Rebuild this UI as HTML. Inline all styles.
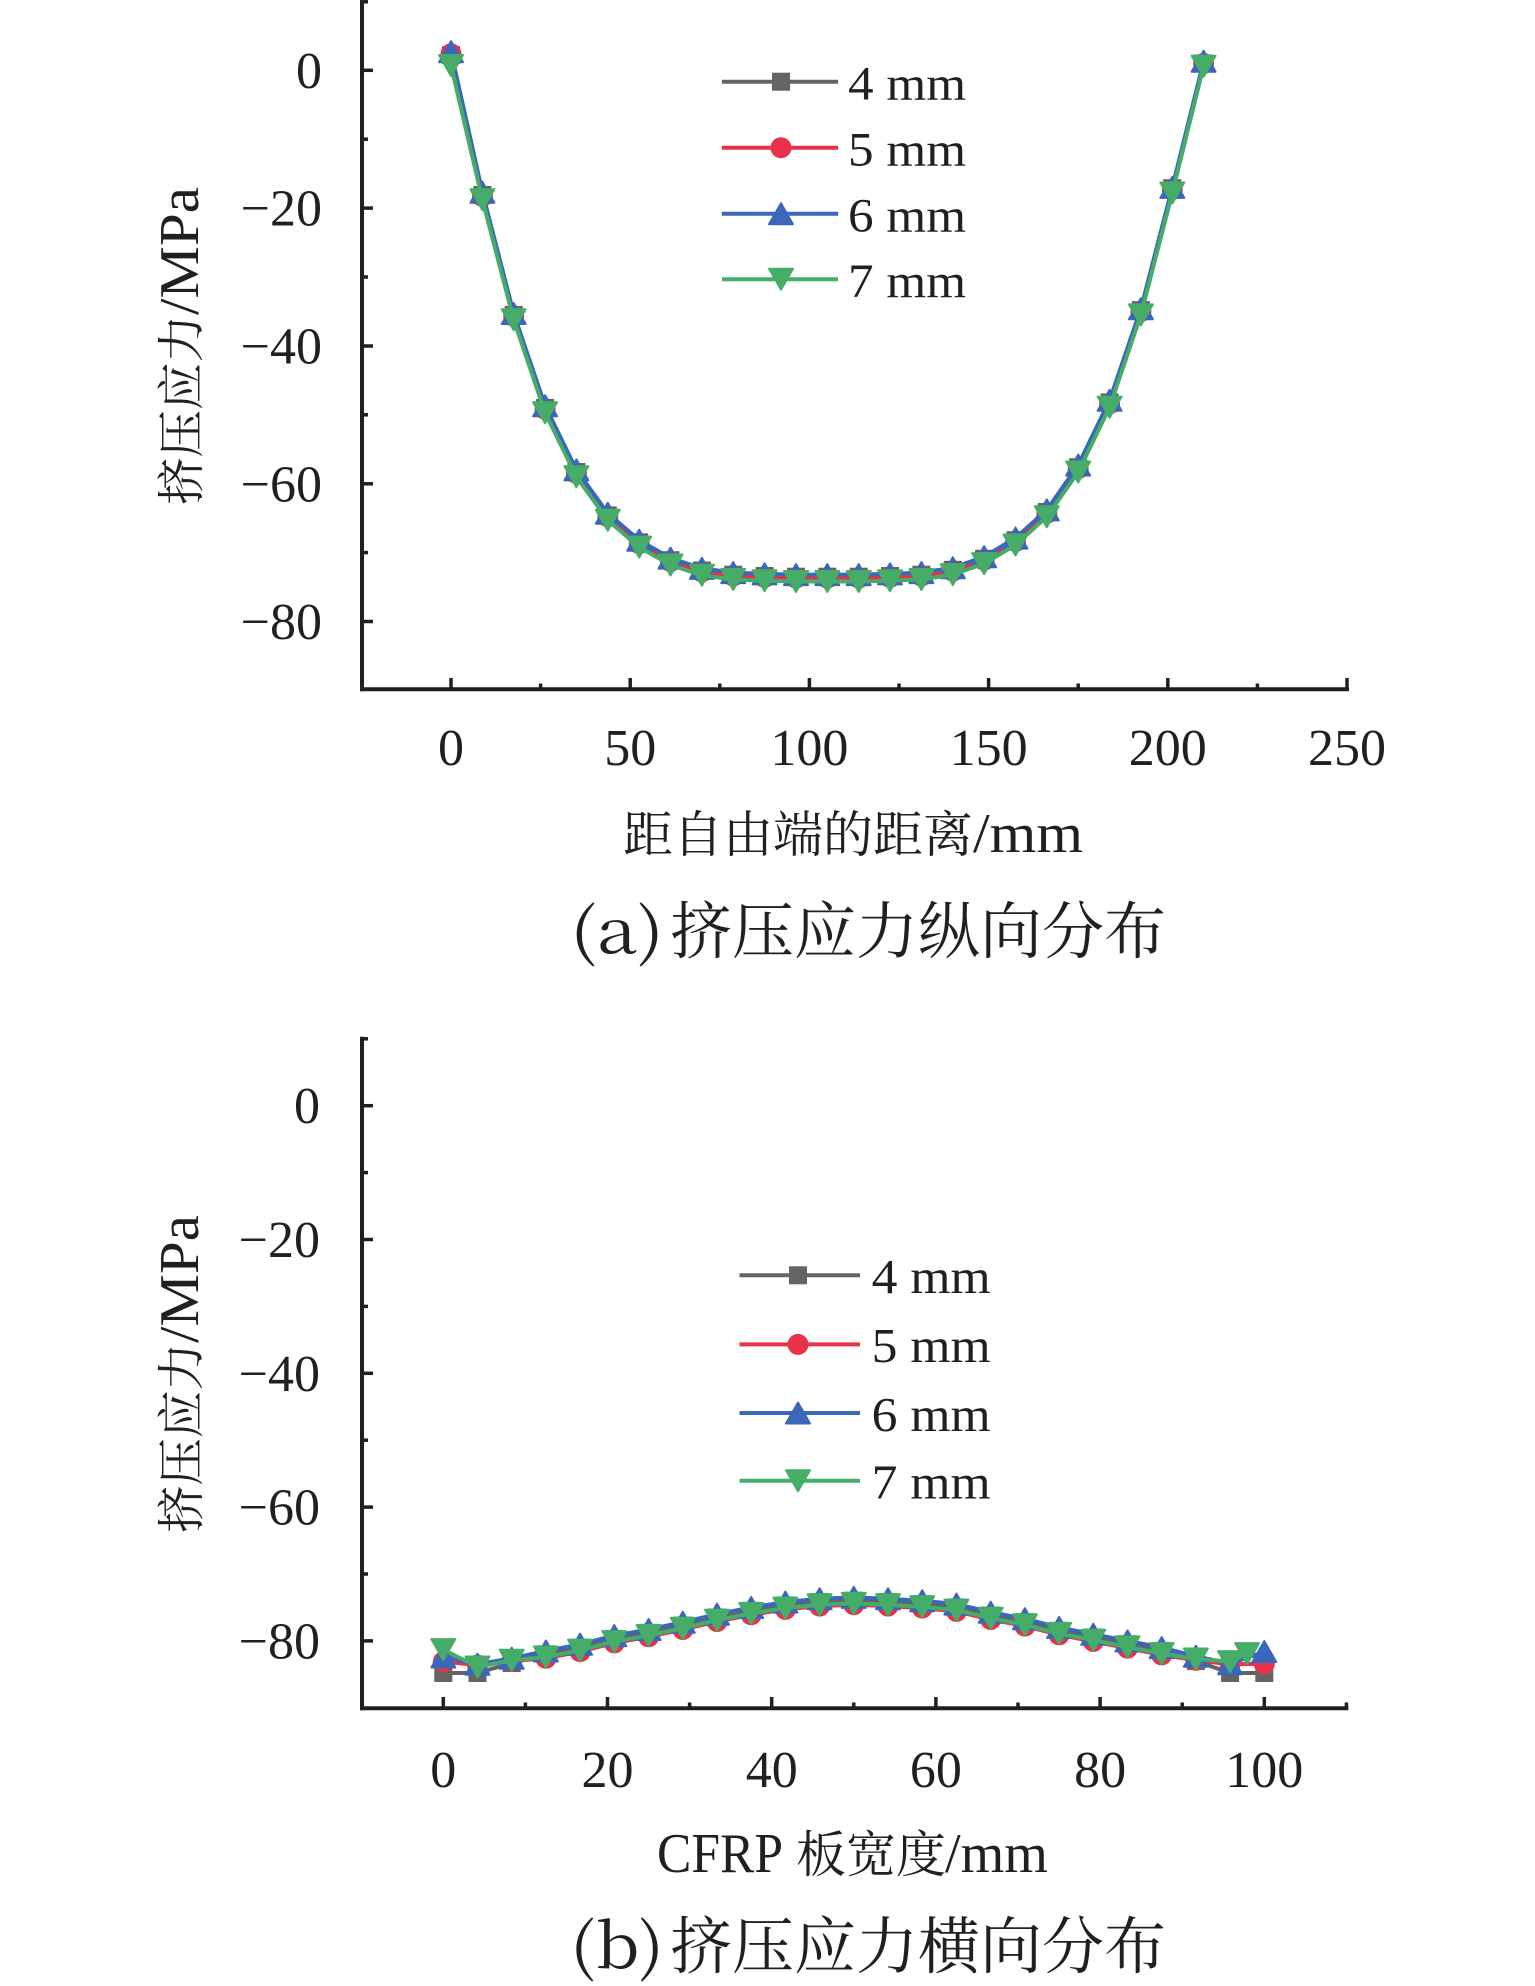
<!DOCTYPE html>
<html><head><meta charset="utf-8"><style>
html,body{margin:0;padding:0;background:#fff;}
svg{display:block;}
text{font-family:"Liberation Serif","Noto Serif CJK SC",serif;fill:#231f20;}
.cjk{font-family:"Noto Serif CJK SC","Liberation Serif",serif;}
</style></head><body>
<svg width="1535" height="1986" viewBox="0 0 1535 1986" xmlns="http://www.w3.org/2000/svg">
<rect width="1535" height="1986" fill="#fff"/>
<defs>
<rect id="sq" x="-9" y="-9" width="18" height="18"/>
<circle id="ci" r="10.5"/>
<path id="tu" d="M-12 10.5 L12 10.5 L0 -10.5 Z" stroke-linejoin="round" stroke-width="2"/>
<path id="td" d="M-12 -10.5 L12 -10.5 L0 10.5 Z" stroke-linejoin="round" stroke-width="2"/>
</defs>

<!-- ===== Chart A axes ===== -->
<g stroke="#231f20" stroke-width="4" fill="none">
<line x1="362" y1="0" x2="362" y2="691.3"/>
<line x1="360" y1="689.3" x2="1349" y2="689.3"/>
</g>
<g stroke="#231f20" stroke-width="3.5">
<line x1="362" y1="70.3" x2="373" y2="70.3"/><line x1="362" y1="208.1" x2="373" y2="208.1"/><line x1="362" y1="346" x2="373" y2="346"/><line x1="362" y1="483.8" x2="373" y2="483.8"/><line x1="362" y1="621.5" x2="373" y2="621.5"/>
<line x1="362" y1="1.8" x2="368" y2="1.8"/><line x1="362" y1="139.2" x2="368" y2="139.2"/><line x1="362" y1="277" x2="368" y2="277"/><line x1="362" y1="414.8" x2="368" y2="414.8"/><line x1="362" y1="552.6" x2="368" y2="552.6"/>
<line x1="451" y1="689" x2="451" y2="678"/><line x1="630.2" y1="689" x2="630.2" y2="678"/><line x1="809.4" y1="689" x2="809.4" y2="678"/><line x1="988.6" y1="689" x2="988.6" y2="678"/><line x1="1167.8" y1="689" x2="1167.8" y2="678"/><line x1="1347" y1="689" x2="1347" y2="678"/>
<line x1="540.6" y1="689" x2="540.6" y2="683.5"/><line x1="719.8" y1="689" x2="719.8" y2="683.5"/><line x1="899" y1="689" x2="899" y2="683.5"/><line x1="1078.2" y1="689" x2="1078.2" y2="683.5"/><line x1="1257.4" y1="689" x2="1257.4" y2="683.5"/>
</g>
<g font-size="52" text-anchor="end">
<text x="322" y="87.8">0</text><text x="322" y="225.6">−20</text><text x="322" y="363.5">−40</text><text x="322" y="501.3">−60</text><text x="322" y="639">−80</text>
</g>
<g font-size="52" text-anchor="middle">
<text x="451" y="765">0</text><text x="630.2" y="765">50</text><text x="809.4" y="765">100</text><text x="988.6" y="765">150</text><text x="1167.8" y="765">200</text><text x="1347" y="765">250</text>
</g>
<text class="cjk" transform="translate(198,505) rotate(-90)" font-size="48" textLength="190" lengthAdjust="spacingAndGlyphs">挤压应力</text>
<text transform="translate(198,315) rotate(-90)" font-size="56" textLength="128" lengthAdjust="spacingAndGlyphs">/MPa</text>
<text class="cjk" x="623" y="852" font-size="50" textLength="350" lengthAdjust="spacingAndGlyphs">距自由端的距离</text>
<text x="973" y="852" font-size="56" textLength="110" lengthAdjust="spacingAndGlyphs">/mm</text>
<text class="cjk" x="570" y="953" font-size="62" textLength="94" lengthAdjust="spacingAndGlyphs">(a)</text>
<text class="cjk" x="670" y="953" font-size="62" textLength="496" lengthAdjust="spacingAndGlyphs">挤压应力纵向分布</text>

<!-- Chart A series -->
<g>
<polyline fill="none" stroke="#646464" stroke-width="4" stroke-linejoin="round" points="451,55.1 482.4,195 513.7,314.9 545.1,407.9 576.4,472 607.8,515.4 639.2,542.3 670.5,560.2 701.9,570.5 733.2,574.7 764.6,576 796,576.7 827.3,576.7 858.7,576.7 890,576 921.4,574.7 952.8,569.8 984.1,558.8 1015.5,540.2 1046.8,512 1078.2,467.2 1109.6,402.4 1140.9,310.1 1172.3,188.2 1203.6,63.4"/>
<g fill="#646464">
<use href="#sq" x="451" y="55.1"/><use href="#sq" x="482.4" y="195"/><use href="#sq" x="513.7" y="314.9"/><use href="#sq" x="545.1" y="407.9"/><use href="#sq" x="576.4" y="472"/><use href="#sq" x="607.8" y="515.4"/><use href="#sq" x="639.2" y="542.3"/><use href="#sq" x="670.5" y="560.2"/><use href="#sq" x="701.9" y="570.5"/><use href="#sq" x="733.2" y="574.7"/><use href="#sq" x="764.6" y="576"/><use href="#sq" x="796" y="576.7"/><use href="#sq" x="827.3" y="576.7"/><use href="#sq" x="858.7" y="576.7"/><use href="#sq" x="890" y="576"/><use href="#sq" x="921.4" y="574.7"/><use href="#sq" x="952.8" y="569.8"/><use href="#sq" x="984.1" y="558.8"/><use href="#sq" x="1015.5" y="540.2"/><use href="#sq" x="1046.8" y="512"/><use href="#sq" x="1078.2" y="467.2"/><use href="#sq" x="1109.6" y="402.4"/><use href="#sq" x="1140.9" y="310.1"/><use href="#sq" x="1172.3" y="188.2"/><use href="#sq" x="1203.6" y="63.4"/>
</g>
<polyline fill="none" stroke="#e8324a" stroke-width="4" stroke-linejoin="round" points="451,53.8 482.4,196.4 513.7,316.3 545.1,409.3 576.4,473.4 607.8,516.8 639.2,543.7 670.5,561.6 701.9,571.9 733.2,576.1 764.6,577.4 796,578.1 827.3,578.1 858.7,578.1 890,577.4 921.4,576.1 952.8,571.2 984.1,560.2 1015.5,541.6 1046.8,513.4 1078.2,468.6 1109.6,403.8 1140.9,311.5 1172.3,189.6 1203.6,63.4"/>
<g fill="#e8324a">
<use href="#ci" x="451" y="53.8"/><use href="#ci" x="482.4" y="196.4"/><use href="#ci" x="513.7" y="316.3"/><use href="#ci" x="545.1" y="409.3"/><use href="#ci" x="576.4" y="473.4"/><use href="#ci" x="607.8" y="516.8"/><use href="#ci" x="639.2" y="543.7"/><use href="#ci" x="670.5" y="561.6"/><use href="#ci" x="701.9" y="571.9"/><use href="#ci" x="733.2" y="576.1"/><use href="#ci" x="764.6" y="577.4"/><use href="#ci" x="796" y="578.1"/><use href="#ci" x="827.3" y="578.1"/><use href="#ci" x="858.7" y="578.1"/><use href="#ci" x="890" y="577.4"/><use href="#ci" x="921.4" y="576.1"/><use href="#ci" x="952.8" y="571.2"/><use href="#ci" x="984.1" y="560.2"/><use href="#ci" x="1015.5" y="541.6"/><use href="#ci" x="1046.8" y="513.4"/><use href="#ci" x="1078.2" y="468.6"/><use href="#ci" x="1109.6" y="403.8"/><use href="#ci" x="1140.9" y="311.5"/><use href="#ci" x="1172.3" y="189.6"/><use href="#ci" x="1203.6" y="63.4"/>
</g>
<polyline fill="none" stroke="#3a67ba" stroke-width="4" stroke-linejoin="round" points="451,51.7 482.4,192.3 513.7,313.5 545.1,405.8 576.4,469.9 607.8,513.3 639.2,540.2 670.5,558.1 701.9,568.4 733.2,572.6 764.6,573.9 796,574.6 827.3,574.6 858.7,574.6 890,573.9 921.4,572.6 952.8,567.7 984.1,556.7 1015.5,538.1 1046.8,509.9 1078.2,465.1 1109.6,400.3 1140.9,308.7 1172.3,187.4 1203.6,61.3"/>
<g fill="#3a67ba" stroke="#3a67ba">
<use href="#tu" x="451" y="51.7"/><use href="#tu" x="482.4" y="192.3"/><use href="#tu" x="513.7" y="313.5"/><use href="#tu" x="545.1" y="405.8"/><use href="#tu" x="576.4" y="469.9"/><use href="#tu" x="607.8" y="513.3"/><use href="#tu" x="639.2" y="540.2"/><use href="#tu" x="670.5" y="558.1"/><use href="#tu" x="701.9" y="568.4"/><use href="#tu" x="733.2" y="572.6"/><use href="#tu" x="764.6" y="573.9"/><use href="#tu" x="796" y="574.6"/><use href="#tu" x="827.3" y="574.6"/><use href="#tu" x="858.7" y="574.6"/><use href="#tu" x="890" y="573.9"/><use href="#tu" x="921.4" y="572.6"/><use href="#tu" x="952.8" y="567.7"/><use href="#tu" x="984.1" y="556.7"/><use href="#tu" x="1015.5" y="538.1"/><use href="#tu" x="1046.8" y="509.9"/><use href="#tu" x="1078.2" y="465.1"/><use href="#tu" x="1109.6" y="400.3"/><use href="#tu" x="1140.9" y="308.7"/><use href="#tu" x="1172.3" y="187.4"/><use href="#tu" x="1203.6" y="61.3"/>
</g>
<polyline fill="none" stroke="#45ad68" stroke-width="4" stroke-linejoin="round" points="451,65.5 482.4,199.8 513.7,319.7 545.1,412.7 576.4,476.8 607.8,520.2 639.2,547.1 670.5,565 701.9,575.3 733.2,579.5 764.6,580.8 796,581.5 827.3,581.5 858.7,581.5 890,580.8 921.4,579.5 952.8,574.6 984.1,563.6 1015.5,545 1046.8,516.8 1078.2,472 1109.6,407.2 1140.9,314.9 1172.3,193 1203.6,66.2"/>
<g fill="#45ad68" stroke="#45ad68">
<use href="#td" x="451" y="65.5"/><use href="#td" x="482.4" y="199.8"/><use href="#td" x="513.7" y="319.7"/><use href="#td" x="545.1" y="412.7"/><use href="#td" x="576.4" y="476.8"/><use href="#td" x="607.8" y="520.2"/><use href="#td" x="639.2" y="547.1"/><use href="#td" x="670.5" y="565"/><use href="#td" x="701.9" y="575.3"/><use href="#td" x="733.2" y="579.5"/><use href="#td" x="764.6" y="580.8"/><use href="#td" x="796" y="581.5"/><use href="#td" x="827.3" y="581.5"/><use href="#td" x="858.7" y="581.5"/><use href="#td" x="890" y="580.8"/><use href="#td" x="921.4" y="579.5"/><use href="#td" x="952.8" y="574.6"/><use href="#td" x="984.1" y="563.6"/><use href="#td" x="1015.5" y="545"/><use href="#td" x="1046.8" y="516.8"/><use href="#td" x="1078.2" y="472"/><use href="#td" x="1109.6" y="407.2"/><use href="#td" x="1140.9" y="314.9"/><use href="#td" x="1172.3" y="193"/><use href="#td" x="1203.6" y="66.2"/>
</g>
</g>

<!-- Legend A -->
<g stroke-width="4">
<line x1="722" y1="81.7" x2="838" y2="81.7" stroke="#646464"/>
<line x1="722" y1="147.7" x2="838" y2="147.7" stroke="#e8324a"/>
<line x1="722" y1="213.7" x2="838" y2="213.7" stroke="#3a67ba"/>
<line x1="722" y1="279.3" x2="838" y2="279.3" stroke="#45ad68"/>
</g>
<use href="#sq" x="781" y="81.7" fill="#646464"/>
<use href="#ci" x="781" y="147.7" fill="#e8324a"/>
<use href="#tu" x="781" y="213.7" fill="#3a67ba" stroke="#3a67ba"/>
<use href="#td" x="781" y="279.3" fill="#45ad68" stroke="#45ad68"/>
<g font-size="48">
<text x="848" y="99.3" textLength="118" lengthAdjust="spacingAndGlyphs">4 mm</text>
<text x="848" y="165.3" textLength="118" lengthAdjust="spacingAndGlyphs">5 mm</text>
<text x="848" y="231.3" textLength="118" lengthAdjust="spacingAndGlyphs">6 mm</text>
<text x="848" y="296.9" textLength="118" lengthAdjust="spacingAndGlyphs">7 mm</text>
</g>

<!-- ===== Chart B axes ===== -->
<g stroke="#231f20" stroke-width="4" fill="none">
<line x1="362" y1="1036.8" x2="362" y2="1710.3"/>
<line x1="360" y1="1708.3" x2="1348.4" y2="1708.3"/>
</g>
<g stroke="#231f20" stroke-width="3.5">
<line x1="362" y1="1105.7" x2="373" y2="1105.7"/><line x1="362" y1="1239.5" x2="373" y2="1239.5"/><line x1="362" y1="1373.3" x2="373" y2="1373.3"/><line x1="362" y1="1507.1" x2="373" y2="1507.1"/><line x1="362" y1="1640.9" x2="373" y2="1640.9"/>
<line x1="362" y1="1038.8" x2="368" y2="1038.8"/><line x1="362" y1="1172.6" x2="368" y2="1172.6"/><line x1="362" y1="1306.4" x2="368" y2="1306.4"/><line x1="362" y1="1440.2" x2="368" y2="1440.2"/><line x1="362" y1="1574" x2="368" y2="1574"/>
<line x1="443.3" y1="1708" x2="443.3" y2="1697"/><line x1="607.5" y1="1708" x2="607.5" y2="1697"/><line x1="771.7" y1="1708" x2="771.7" y2="1697"/><line x1="935.9" y1="1708" x2="935.9" y2="1697"/><line x1="1100.1" y1="1708" x2="1100.1" y2="1697"/><line x1="1264.3" y1="1708" x2="1264.3" y2="1697"/>
<line x1="525.4" y1="1708" x2="525.4" y2="1702.5"/><line x1="689.6" y1="1708" x2="689.6" y2="1702.5"/><line x1="853.8" y1="1708" x2="853.8" y2="1702.5"/><line x1="1018" y1="1708" x2="1018" y2="1702.5"/><line x1="1182.2" y1="1708" x2="1182.2" y2="1702.5"/><line x1="1346.4" y1="1708" x2="1346.4" y2="1702.5"/>
</g>
<g font-size="52" text-anchor="end">
<text x="320" y="1123.2">0</text><text x="320" y="1257">−20</text><text x="320" y="1390.8">−40</text><text x="320" y="1524.6">−60</text><text x="320" y="1658.4">−80</text>
</g>
<g font-size="52" text-anchor="middle">
<text x="443.3" y="1787">0</text><text x="607.5" y="1787">20</text><text x="771.7" y="1787">40</text><text x="935.9" y="1787">60</text><text x="1100.1" y="1787">80</text><text x="1264.3" y="1787">100</text>
</g>
<text class="cjk" transform="translate(198,1533) rotate(-90)" font-size="48" textLength="190" lengthAdjust="spacingAndGlyphs">挤压应力</text>
<text transform="translate(198,1343) rotate(-90)" font-size="56" textLength="128" lengthAdjust="spacingAndGlyphs">/MPa</text>
<text x="657" y="1872" font-size="56" textLength="126" lengthAdjust="spacingAndGlyphs">CFRP</text>
<text class="cjk" x="796" y="1872" font-size="50" textLength="150" lengthAdjust="spacingAndGlyphs">板宽度</text>
<text x="945" y="1872" font-size="56" textLength="103" lengthAdjust="spacingAndGlyphs">/mm</text>
<text class="cjk" x="570" y="1968" font-size="62" textLength="94" lengthAdjust="spacingAndGlyphs">(b)</text>
<text class="cjk" x="670" y="1968" font-size="62" textLength="496" lengthAdjust="spacingAndGlyphs">挤压应力横向分布</text>

<!-- Chart B series -->
<g>
<polyline fill="none" stroke="#646464" stroke-width="4" stroke-linejoin="round" points="443.3,1673 477.5,1673 511.7,1663 545.9,1654.3 580.1,1647.6 614.3,1638.9 648.6,1632.8 682.8,1625.5 717,1617.5 751.2,1610.8 785.4,1605.4 819.6,1602.1 853.8,1600.7 888,1602.1 922.2,1604.1 956.4,1607.4 990.7,1615.5 1024.9,1622.1 1059.1,1630.8 1093.3,1637.5 1127.5,1644.2 1161.7,1650.9 1195.9,1661 1230.1,1673 1264.3,1673"/>
<g fill="#646464">
<use href="#sq" x="443.3" y="1673"/><use href="#sq" x="477.5" y="1673"/><use href="#sq" x="511.7" y="1663"/><use href="#sq" x="545.9" y="1654.3"/><use href="#sq" x="580.1" y="1647.6"/><use href="#sq" x="614.3" y="1638.9"/><use href="#sq" x="648.6" y="1632.8"/><use href="#sq" x="682.8" y="1625.5"/><use href="#sq" x="717" y="1617.5"/><use href="#sq" x="751.2" y="1610.8"/><use href="#sq" x="785.4" y="1605.4"/><use href="#sq" x="819.6" y="1602.1"/><use href="#sq" x="853.8" y="1600.7"/><use href="#sq" x="888" y="1602.1"/><use href="#sq" x="922.2" y="1604.1"/><use href="#sq" x="956.4" y="1607.4"/><use href="#sq" x="990.7" y="1615.5"/><use href="#sq" x="1024.9" y="1622.1"/><use href="#sq" x="1059.1" y="1630.8"/><use href="#sq" x="1093.3" y="1637.5"/><use href="#sq" x="1127.5" y="1644.2"/><use href="#sq" x="1161.7" y="1650.9"/><use href="#sq" x="1195.9" y="1661"/><use href="#sq" x="1230.1" y="1673"/><use href="#sq" x="1264.3" y="1673"/>
</g>
<polyline fill="none" stroke="#e8324a" stroke-width="4" stroke-linejoin="round" points="443.3,1661.6 477.5,1665 511.7,1661 545.9,1658.3 580.1,1651.6 614.3,1642.9 648.6,1636.8 682.8,1629.5 717,1621.5 751.2,1614.8 785.4,1609.4 819.6,1606.1 853.8,1604.7 888,1606.1 922.2,1608.1 956.4,1611.4 990.7,1619.5 1024.9,1626.1 1059.1,1634.8 1093.3,1641.5 1127.5,1648.2 1161.7,1654.9 1195.9,1660.3 1230.1,1664.3 1264.3,1663.7"/>
<g fill="#e8324a">
<use href="#ci" x="443.3" y="1661.6"/><use href="#ci" x="477.5" y="1665"/><use href="#ci" x="511.7" y="1661"/><use href="#ci" x="545.9" y="1658.3"/><use href="#ci" x="580.1" y="1651.6"/><use href="#ci" x="614.3" y="1642.9"/><use href="#ci" x="648.6" y="1636.8"/><use href="#ci" x="682.8" y="1629.5"/><use href="#ci" x="717" y="1621.5"/><use href="#ci" x="751.2" y="1614.8"/><use href="#ci" x="785.4" y="1609.4"/><use href="#ci" x="819.6" y="1606.1"/><use href="#ci" x="853.8" y="1604.7"/><use href="#ci" x="888" y="1606.1"/><use href="#ci" x="922.2" y="1608.1"/><use href="#ci" x="956.4" y="1611.4"/><use href="#ci" x="990.7" y="1619.5"/><use href="#ci" x="1024.9" y="1626.1"/><use href="#ci" x="1059.1" y="1634.8"/><use href="#ci" x="1093.3" y="1641.5"/><use href="#ci" x="1127.5" y="1648.2"/><use href="#ci" x="1161.7" y="1654.9"/><use href="#ci" x="1195.9" y="1660.3"/><use href="#ci" x="1230.1" y="1664.3"/><use href="#ci" x="1264.3" y="1663.7"/>
</g>
<polyline fill="none" stroke="#3a67ba" stroke-width="4" stroke-linejoin="round" points="443.3,1657 477.5,1664.3 511.7,1658.3 545.9,1651 580.1,1644.3 614.3,1635.6 648.6,1629.5 682.8,1622.2 717,1614.2 751.2,1607.5 785.4,1602.1 819.6,1598.8 853.8,1597.4 888,1598.8 922.2,1600.8 956.4,1604.1 990.7,1612.2 1024.9,1618.8 1059.1,1627.5 1093.3,1634.2 1127.5,1640.9 1161.7,1647.6 1195.9,1656.3 1230.1,1663.7 1264.3,1651.6"/>
<g fill="#3a67ba" stroke="#3a67ba">
<use href="#tu" x="443.3" y="1657"/><use href="#tu" x="477.5" y="1664.3"/><use href="#tu" x="511.7" y="1658.3"/><use href="#tu" x="545.9" y="1651"/><use href="#tu" x="580.1" y="1644.3"/><use href="#tu" x="614.3" y="1635.6"/><use href="#tu" x="648.6" y="1629.5"/><use href="#tu" x="682.8" y="1622.2"/><use href="#tu" x="717" y="1614.2"/><use href="#tu" x="751.2" y="1607.5"/><use href="#tu" x="785.4" y="1602.1"/><use href="#tu" x="819.6" y="1598.8"/><use href="#tu" x="853.8" y="1597.4"/><use href="#tu" x="888" y="1598.8"/><use href="#tu" x="922.2" y="1600.8"/><use href="#tu" x="956.4" y="1604.1"/><use href="#tu" x="990.7" y="1612.2"/><use href="#tu" x="1024.9" y="1618.8"/><use href="#tu" x="1059.1" y="1627.5"/><use href="#tu" x="1093.3" y="1634.2"/><use href="#tu" x="1127.5" y="1640.9"/><use href="#tu" x="1161.7" y="1647.6"/><use href="#tu" x="1195.9" y="1656.3"/><use href="#tu" x="1230.1" y="1663.7"/><use href="#tu" x="1264.3" y="1651.6"/>
</g>
<polyline fill="none" stroke="#45ad68" stroke-width="4" stroke-linejoin="round" points="443.3,1649.6 477.5,1667 511.7,1660.3 545.9,1657 580.1,1650.3 614.3,1641.6 648.6,1635.5 682.8,1628.2 717,1620.2 751.2,1613.5 785.4,1608.1 819.6,1604.8 853.8,1603.4 888,1604.8 922.2,1606.8 956.4,1610.1 990.7,1618.2 1024.9,1624.8 1059.1,1633.5 1093.3,1640.2 1127.5,1646.9 1161.7,1653.6 1195.9,1659 1230.1,1661.6 1247.1,1653.6"/>
<g fill="#45ad68" stroke="#45ad68">
<use href="#td" x="443.3" y="1649.6"/><use href="#td" x="477.5" y="1667"/><use href="#td" x="511.7" y="1660.3"/><use href="#td" x="545.9" y="1657"/><use href="#td" x="580.1" y="1650.3"/><use href="#td" x="614.3" y="1641.6"/><use href="#td" x="648.6" y="1635.5"/><use href="#td" x="682.8" y="1628.2"/><use href="#td" x="717" y="1620.2"/><use href="#td" x="751.2" y="1613.5"/><use href="#td" x="785.4" y="1608.1"/><use href="#td" x="819.6" y="1604.8"/><use href="#td" x="853.8" y="1603.4"/><use href="#td" x="888" y="1604.8"/><use href="#td" x="922.2" y="1606.8"/><use href="#td" x="956.4" y="1610.1"/><use href="#td" x="990.7" y="1618.2"/><use href="#td" x="1024.9" y="1624.8"/><use href="#td" x="1059.1" y="1633.5"/><use href="#td" x="1093.3" y="1640.2"/><use href="#td" x="1127.5" y="1646.9"/><use href="#td" x="1161.7" y="1653.6"/><use href="#td" x="1195.9" y="1659"/><use href="#td" x="1230.1" y="1661.6"/><use href="#td" x="1247.1" y="1653.6"/>
</g>
</g>

<!-- Legend B -->
<g stroke-width="4">
<line x1="739.5" y1="1275.3" x2="860" y2="1275.3" stroke="#646464"/>
<line x1="739.5" y1="1344.4" x2="860" y2="1344.4" stroke="#e8324a"/>
<line x1="739.5" y1="1413" x2="860" y2="1413" stroke="#3a67ba"/>
<line x1="739.5" y1="1480.8" x2="860" y2="1480.8" stroke="#45ad68"/>
</g>
<use href="#sq" x="798" y="1275.3" fill="#646464"/>
<use href="#ci" x="798" y="1344.4" fill="#e8324a"/>
<use href="#tu" x="798" y="1413" fill="#3a67ba" stroke="#3a67ba"/>
<use href="#td" x="798" y="1480.8" fill="#45ad68" stroke="#45ad68"/>
<g font-size="49">
<text x="871.7" y="1293.1" textLength="119" lengthAdjust="spacingAndGlyphs">4 mm</text>
<text x="871.7" y="1362.2" textLength="119" lengthAdjust="spacingAndGlyphs">5 mm</text>
<text x="871.7" y="1430.8" textLength="119" lengthAdjust="spacingAndGlyphs">6 mm</text>
<text x="871.7" y="1498.6" textLength="119" lengthAdjust="spacingAndGlyphs">7 mm</text>
</g>
</svg>
</body></html>
